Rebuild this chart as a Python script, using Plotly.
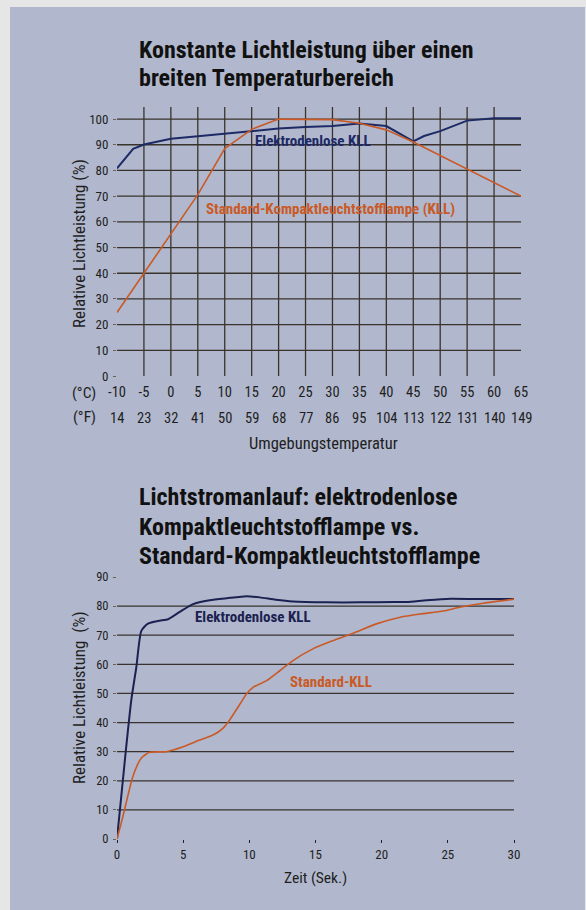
import plotly.graph_objects as go

# ---------------- data: chart 1 (temperature) ----------------
temp_c_ticks = [-10, -5, 0, 5, 10, 15, 20, 25, 30, 35, 40, 45, 50, 55, 60, 65]
temp_f_ticks = ["14", "23", "32", "41", "50", "59", "68", "77", "86", "95",
                "104", "113", "122", "131", "140", "149"]
y1_ticks = [0, 10, 20, 30, 40, 50, 60, 70, 80, 90, 100]

elektrodenlos_t = [-10, -7, -5, 0, 5, 10, 15, 20, 25, 30, 35, 40, 45, 47, 50, 55, 60, 65]
elektrodenlos_v = [80.8, 88.4, 90.1, 92.3, 93.3, 94.3, 95.5, 96.3, 96.9, 97.3, 98.3, 97.3,
                   91.3, 93.4, 95.3, 99.4, 100.3, 100.3]

standard_t = [-10, -5, 0, 5, 10, 15, 20, 25, 30, 35, 40, 45, 50, 55, 60, 65]
standard_v = [24.7, 40.0, 55.0, 70.6, 88.5, 96.0, 100.0, 100.0, 99.8, 98.4, 95.8, 91.1,
              85.9, 80.4, 75.2, 70.0]

# ---------------- data: chart 2 (run-up) ----------------
x2_ticks = [0, 5, 10, 15, 20, 25, 30]
y2_ticks = [0, 10, 20, 30, 40, 50, 60, 70, 80, 90]

run_el_t = [0, 0.66, 1.08, 1.46, 1.84, 2.34, 3.2, 3.86, 4.74, 5.75, 7.0, 8.3, 9.8,
            10.8, 12.0, 13.3, 15.8, 18.4, 20.9, 21.9, 23.4, 25.2, 27.2, 30]
run_el_v = [0, 30, 47.7, 59, 71.5, 74, 75, 75.5, 78, 80.7, 82, 82.7, 83.4,
            83, 82.2, 81.6, 81.3, 81.3, 81.4, 81.4, 82, 82.5, 82.4, 82.4]

run_std_t = [0, 0.45, 1.2, 1.84, 2.47, 3.73, 5.0, 6.25, 7.26, 8.0, 8.5, 9.48, 9.78,
             10.28, 11.3, 12.3, 13.3, 14.8, 16.3, 17.85, 19.6, 21.4, 22.9, 24.65,
             25.9, 27.7, 30]
run_std_v = [0, 7.8, 21.5, 27.8, 29.8, 30, 31.7, 34, 35.7, 38, 40.8, 47.7, 49.8,
             52.1, 54.4, 57.8, 61.3, 65.3, 68.1, 70.7, 73.9, 76.2, 77.3, 78.3,
             79.6, 81, 82.4]

title1_lines = ["Konstante Lichtleistung über einen", "breiten Temperaturbereich"]
title2_lines = ["Lichtstromanlauf: elektrodenlose", "Kompaktleuchtstofflampe vs.",
                "Standard-Kompaktleuchtstofflampe"]

# ---------------- styling ----------------
W, H = 586, 910
FONT = "Liberation Sans Narrow, Roboto Condensed, Arial Narrow, Roboto, Liberation Sans, sans-serif"
NAVY = "#1d2a66"
NAVY2 = "#1b2150"
ORANGE = "#c95a27"
PLOT_BG = "#f1dec6"
PANEL = "#b1b8cd"
GRID = "#3a332c"
TXT = "#1e1e1e"


def px(x):
    return x / W


def py(y):
    return 1 - y / H


fig = go.Figure()

fig.add_trace(go.Scatter(x=elektrodenlos_t, y=elektrodenlos_v, mode="lines",
                         line=dict(color=NAVY, width=2), xaxis="x", yaxis="y",
                         showlegend=False, hoverinfo="skip"))
fig.add_trace(go.Scatter(x=standard_t, y=standard_v, mode="lines",
                         line=dict(color=ORANGE, width=1.6), xaxis="x", yaxis="y",
                         showlegend=False, hoverinfo="skip"))

fig.add_trace(go.Scatter(x=run_el_t, y=run_el_v, mode="lines",
                         line=dict(color=NAVY2, width=2, shape="spline", smoothing=0.6),
                         xaxis="x2", yaxis="y2", showlegend=False, hoverinfo="skip"))
fig.add_trace(go.Scatter(x=run_std_t, y=run_std_v, mode="lines",
                         line=dict(color=ORANGE, width=1.6, shape="spline", smoothing=0.6),
                         xaxis="x2", yaxis="y2", showlegend=False, hoverinfo="skip"))

fig.update_layout(
    width=W, height=H,
    margin=dict(l=0, r=0, t=0, b=0, pad=0, autoexpand=False),
    paper_bgcolor="#e6e6e6",
    plot_bgcolor=PLOT_BG,
    font=dict(family=FONT, color=TXT),
    showlegend=False,
    xaxis=dict(domain=[px(117), px(521)], anchor="y", range=[-10, 65],
               tickvals=temp_c_ticks, ticktext=[str(v) for v in temp_c_ticks],
               showgrid=False, zeroline=False, showline=False, ticks="",
               ticklabelstandoff=5, automargin=False,
               tickfont=dict(size=14.5, color=TXT)),
    yaxis=dict(domain=[py(376), py(107)], anchor="x", range=[0, 104.7],
               tickvals=y1_ticks, showgrid=False, zeroline=False, showline=False,
               ticks="outside", ticklen=3, tickcolor="#6a625a", tickwidth=1,
               ticklabelstandoff=2, automargin=False,
               tickfont=dict(size=13, color=TXT)),
    xaxis2=dict(domain=[px(117), px(514)], anchor="y2", range=[0, 30],
                tickvals=x2_ticks, showgrid=False, zeroline=False, showline=False,
                ticks="outside", ticklen=3, tickwidth=1, tickcolor="#222",
                automargin=False, tickfont=dict(size=13, color=TXT)),
    yaxis2=dict(domain=[py(839), py(577)], anchor="x2", range=[0, 90],
                tickvals=y2_ticks, showgrid=False, zeroline=False, showline=False,
                ticks="outside", ticklen=3, tickcolor="#6a625a", tickwidth=1,
                ticklabelstandoff=2, automargin=False,
                tickfont=dict(size=12.5, color=TXT)),
)

shapes = []
# blue panel background
shapes.append(dict(type="rect", xref="paper", yref="paper", x0=px(10), x1=px(585),
                   y0=0, y1=py(7), fillcolor=PANEL, line=dict(width=0), layer="below"))
# interior grid lines (edges of the plot have none)
for v in temp_c_ticks[1:-1]:
    shapes.append(dict(type="line", xref="x", yref="y domain", x0=v, x1=v, y0=0, y1=1,
                       line=dict(color=GRID, width=1.3), layer="below"))
for v in y1_ticks[1:]:
    shapes.append(dict(type="line", xref="x domain", yref="y", x0=0, x1=1, y0=v, y1=v,
                       line=dict(color=GRID, width=1.3), layer="below"))
for v in y2_ticks[1:-1]:
    shapes.append(dict(type="line", xref="x2 domain", yref="y2", x0=0, x1=1, y0=v, y1=v,
                       line=dict(color=GRID, width=1.3), layer="below"))
fig.update_layout(shapes=shapes)

ann = []


def label(text, x, y, size, color=TXT, xref="paper", xanchor="center", angle=0):
    ann.append(dict(text=text, x=x, y=y, xref=xref, yref="paper", xanchor=xanchor,
                    yanchor="middle", textangle=angle, showarrow=False,
                    font=dict(size=size, color=color, family=FONT)))


# titles (one annotation per line for exact line spacing)
for i, line in enumerate(title1_lines):
    label("<b>" + line + "</b>", px(137), py(50 + 28 * i), 24, "#111", xanchor="left")
for i, line in enumerate(title2_lines):
    label("<b>" + line + "</b>", px(137), py(497 + 29.5 * i), 24, "#111", xanchor="left")
# axis titles
label("Relative Lichtleistung (%)", px(79), py(244), 17, angle=-90)
label("Umgebungstemperatur", px(323), py(443), 16.5)
label("Relative Lichtleistung  (%)", px(79), py(698), 17, angle=-90)
label("Zeit (Sek.)", px(315), py(878), 15.5)
# unit labels
label("(°C)", px(84), py(393), 15.5)
label("(°F)", px(84), py(417), 15.5)
# Fahrenheit row
for c, f in zip(temp_c_ticks, temp_f_ticks):
    label(f, c, py(419), 14.5, xref="x")
# curve labels
label("<b>Elektrodenlose KLL</b>", px(313), py(141), 15, NAVY)
label("<b>Standard-Kompaktleuchtstofflampe (KLL)</b>", px(330), py(209), 15, ORANGE)
label("<b>Elektrodenlose KLL</b>", px(253), py(617), 15, NAVY2)
label("<b>Standard-KLL</b>", px(331), py(682), 15, ORANGE)

fig.update_layout(annotations=ann)
fig.write_html("out.html",
               config={"displayModeBar": False},
               post_script="document.body.style.margin='0px';"
                           "document.body.style.overflow='hidden';")
